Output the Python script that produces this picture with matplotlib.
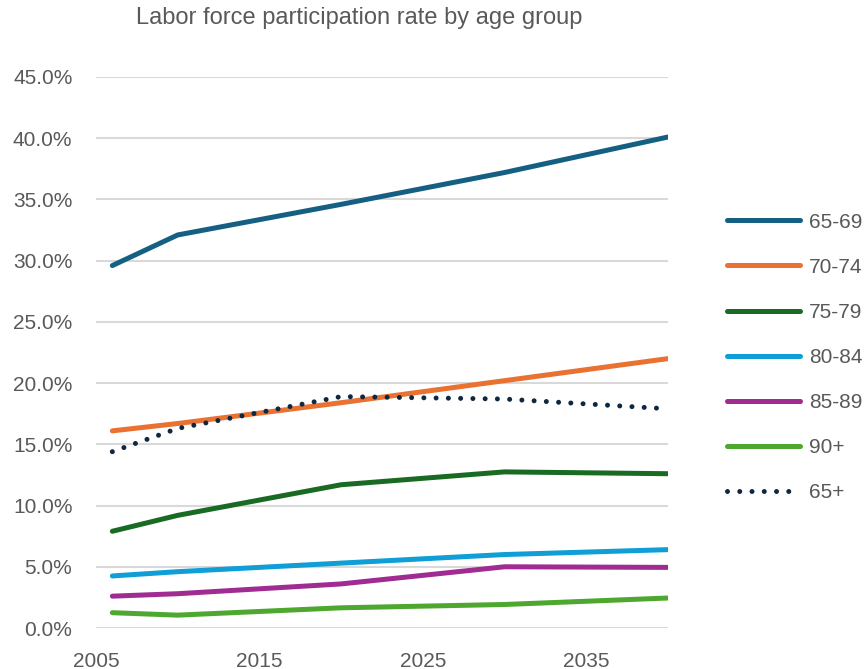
import matplotlib.pyplot as plt
from matplotlib.ticker import FuncFormatter

years = [2006, 2010, 2020, 2030, 2040]

age_65_69 = [29.6, 32.1, 34.6, 37.2, 40.1]
age_70_74 = [16.1, 16.7, 18.4, 20.2, 22.0]
age_75_79 = [7.9, 9.2, 11.7, 12.75, 12.6]
age_80_84 = [4.25, 4.6, 5.3, 6.0, 6.4]
age_85_89 = [2.6, 2.8, 3.6, 5.0, 4.95]
age_90_plus = [1.25, 1.05, 1.65, 1.92, 2.45]
age_65_plus = [14.4, 16.3, 18.9, 18.7, 17.9]

labels = ["65-69", "70-74", "75-79", "80-84", "85-89", "90+", "65+"]
colors = ["#156082", "#E97132", "#196B24", "#0F9ED5", "#A02B93", "#4EA72E", "#0E2841"]
series = [age_65_69, age_70_74, age_75_79, age_80_84, age_85_89, age_90_plus, age_65_plus]

xticks = [2005, 2015, 2025, 2035]
yticks = [0, 5, 10, 15, 20, 25, 30, 35, 40, 45]

txt = "#595959"
plt.rcParams['font.family'] = ['Liberation Sans', 'DejaVu Sans']

fig = plt.figure(figsize=(8.66, 6.69), dpi=100)
ax = fig.add_axes([96/866, 1 - 628/669, (668-96)/866, (628-77)/669])

lw = 3.6
handles = []
for lab, col, vals in zip(labels, colors, series):
    if lab == "65+":
        ln, = ax.plot(years, vals, color=col, lw=lw, linestyle=(0, (0.001, 2.45)),
                      dash_capstyle='round', zorder=4)
    else:
        ln, = ax.plot(years, vals, color=col, lw=lw, solid_capstyle='round', zorder=3)
    handles.append(ln)

ax.set_xlim(2005, 2040)
ax.set_ylim(0, 45)
ax.set_xticks(xticks)
ax.set_yticks(yticks)
ax.yaxis.set_major_formatter(FuncFormatter(lambda v, p: f"{v:.1f}%"))
ax.grid(axis='y', color="#D9D9D9", lw=1.5)
ax.set_axisbelow(True)
for s in ax.spines.values():
    s.set_visible(False)
ax.tick_params(axis='both', length=0, labelsize=15, colors=txt)
ax.tick_params(axis='y', pad=17)
ax.tick_params(axis='x', pad=17)

fig.text(359/866, 1 - 18/669, "Labor force participation rate by age group",
         ha='center', va='center', fontsize=17, color=txt)

leg = fig.legend(handles, labels, loc='upper left', bbox_to_anchor=(708/866, 1 - 194/669),
                 frameon=False, fontsize=15, handlelength=3.5, handletextpad=0.45,
                 labelspacing=1.25, labelcolor=txt)

fig.savefig("out.png", dpi=100)
